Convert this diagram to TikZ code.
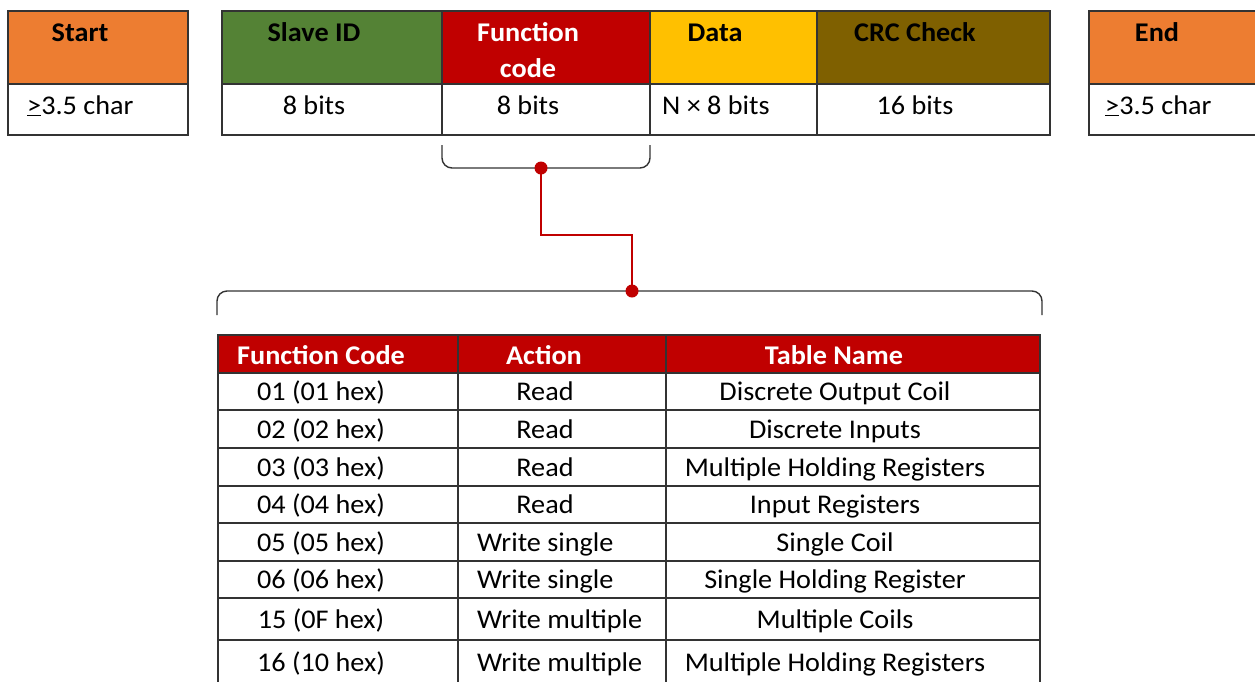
\documentclass[tikz,border=0pt]{standalone}
\usepackage{fontspec}
\setmainfont[FakeStretch=1.045]{Carlito}
\usepackage{xcolor}
\definecolor{cOrange}{HTML}{ED7D31}
\definecolor{cGreen}{HTML}{548235}
\definecolor{cRed}{HTML}{C00000}
\definecolor{cGold}{HTML}{FFC000}
\definecolor{cBrown}{HTML}{7F6000}
\definecolor{cLine}{HTML}{333333}
\usepackage{tikz}
\usetikzlibrary{positioning}

\begin{document}
\begin{tikzpicture}[
    x=1pt, y=-1pt,
    box/.style={draw=cLine, line width=1.5pt, inner sep=0pt, outer sep=0pt, anchor=north west},
    txt/.style={inner sep=0pt, anchor=base, font=\fontsize{27}{36}\selectfont},
    hdtxt/.style={txt, font=\fontsize{27}{36}\selectfont\bfseries},
    brace/.style={draw=cLine, line width=1.4pt, rounded corners=10pt},
    link/.style={draw=cRed, line width=2.8pt},
    dot/.style={circle, fill=cRed, inner sep=0pt, minimum size=13pt}
]
\useasboundingbox (0,0) rectangle (1255,681);

\node[box, fill=cOrange, minimum width=180pt, minimum height=73pt] (startH) at (8,11) {};
\node[box, minimum width=180pt, minimum height=51pt] (startV) at (startH.south west) {};
\node[box, fill=cGreen, minimum width=220pt, minimum height=73pt] (slaveH) at (222,11) {};
\node[box, minimum width=220pt, minimum height=51pt] (slaveV) at (slaveH.south west) {};
\node[box, fill=cRed, minimum width=208pt, minimum height=73pt] (funcH) at (slaveH.north east) {};
\node[box, minimum width=208pt, minimum height=51pt] (funcV) at (funcH.south west) {};
\node[box, fill=cGold, minimum width=167pt, minimum height=73pt] (dataH) at (funcH.north east) {};
\node[box, minimum width=167pt, minimum height=51pt] (dataV) at (dataH.south west) {};
\node[box, fill=cBrown, minimum width=233pt, minimum height=73pt] (crcH) at (dataH.north east) {};
\node[box, minimum width=233pt, minimum height=51pt] (crcV) at (crcH.south west) {};
\node[box, fill=cOrange, minimum width=190pt, minimum height=73pt] (endH) at (1089,11) {};
\node[box, minimum width=190pt, minimum height=51pt] (endV) at (endH.south west) {};

\node[hdtxt] (startT) at (80,41) {Start};
\node[txt, anchor=base west] (startN) at (27,114) {\underline{>}3.5 char};
\node[hdtxt] (slaveT) at (314,41) {Slave ID};
\node[txt] (slaveN) at (314,114) {8 bits};
\node[hdtxt, white, align=center, anchor=center] (funcT) at (528,50) {Function\\code};
\node[txt] (funcN) at (528,114) {8 bits};
\node[hdtxt] (dataT) at (715,41) {Data};
\node[txt, anchor=base west] (dataN) at (662,114) {N × 8 bits};
\node[hdtxt] (crcT) at (915,41) {CRC Check};
\node[txt] (crcN) at (915,114) {16 bits};
\node[hdtxt] (endT) at (1157,41) {End};
\node[txt, anchor=base west] (endN) at (1105,114) {\underline{>}3.5 char};

\draw[brace] ([yshift=-10pt]funcV.south west) -- ++(0,23) -- ++(208,0) -- ++(0,-23);
\draw[brace] (217,315) -- (217,291) -- (1042,291) -- (1042,315);
\node[dot] (pick) at (541,168) {};
\node[dot] (spread) at (632,291) {};
\draw[link] (pick.center) -- (pick.center |- 0,235) -| (spread.center);

\node[box, fill=cRed, minimum width=240pt, minimum height=38pt] (codeH) at (218,335) {};
\node[box, fill=cRed, minimum width=208pt, minimum height=38pt] (actH) at (codeH.north east) {};
\node[box, fill=cRed, minimum width=374pt, minimum height=38pt] (nameH) at (actH.north east) {};
\node[hdtxt, white] (codeT) at (321,364) {Function Code};
\node[hdtxt, white] (actT) at (544,364) {Action};
\node[hdtxt, white] (nameT) at (834,364) {Table Name};

\foreach \top/\h/\code/\ax/\aanc/\act/\tab [count=\r] in {
    373/37/01 (01 hex)/545/base/Read/Discrete Output Coil,
    410/38/02 (02 hex)/545/base/Read/Discrete Inputs,
    448/38/03 (03 hex)/545/base/Read/Multiple Holding Registers,
    486/37/04 (04 hex)/545/base/Read/Input Registers,
    523/38/05 (05 hex)/477/base west/Write single/Single Coil,
    561/37/06 (06 hex)/477/base west/Write single/Single Holding Register,
    598/42/15 (0F hex)/477/base west/Write multiple/Multiple Coils,
    640/44/16 (10 hex)/477/base west/Write multiple/Multiple Holding Registers}
{
    \node[box, minimum width=240pt, minimum height=\h pt] (code\r) at (218,\top) {};
    \node[box, minimum width=208pt, minimum height=\h pt] (act\r) at (code\r.north east) {};
    \node[box, minimum width=374pt, minimum height=\h pt] (name\r) at (act\r.north east) {};
    \node[txt] (codeT\r) at (321,{\top+\h/2+9}) {\code};
    \node[txt, anchor=\aanc] (actT\r) at (\ax,{\top+\h/2+9}) {\act};
    \node[txt] (nameT\r) at (835,{\top+\h/2+9}) {\tab};
}
\end{tikzpicture}
\end{document}
